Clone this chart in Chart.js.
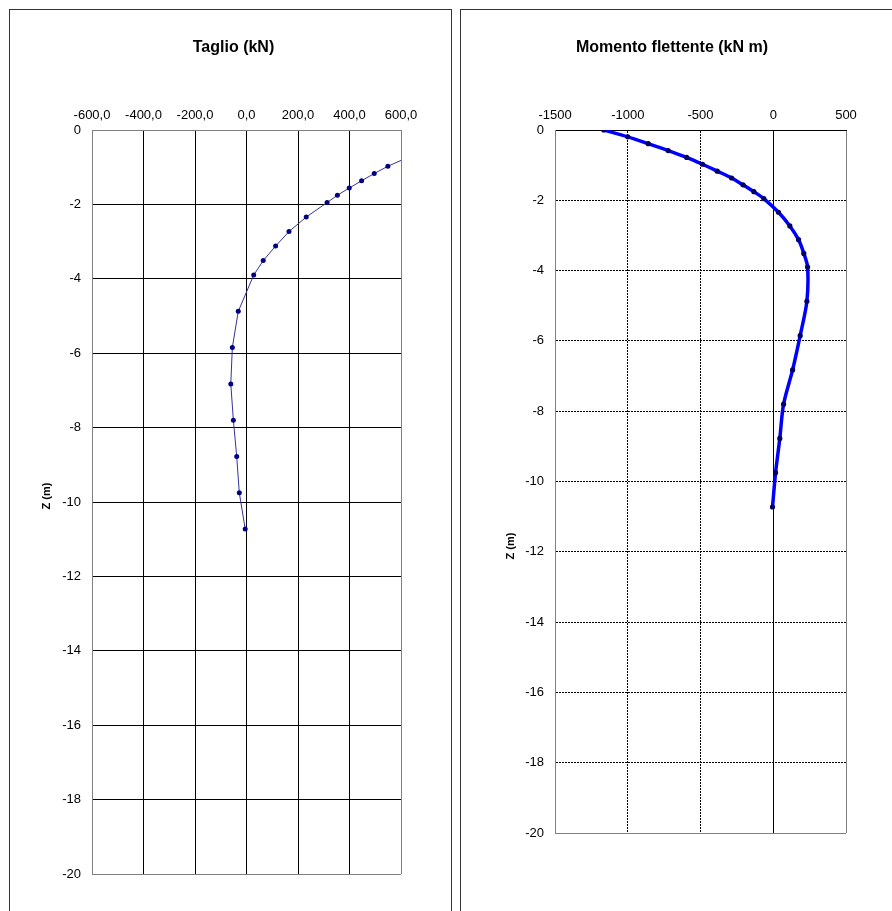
<!DOCTYPE html>
<html>
<head>
<meta charset="utf-8">
<script src="https://cdn.jsdelivr.net/npm/chart.js@4.4.1/dist/chart.umd.min.js"></script>
<style>
	body { margin: 0; background: #fff; width: 892px; height: 911px; overflow: hidden; position: relative; }
	.panel { position: absolute; top: 9px; height: 940px; border: 1px solid #333; box-sizing: border-box; }
	canvas { position: absolute; top: 10px; }
</style>
</head>
<body>
<div class="panel" style="left:9px; width:443px;"></div>
<div class="panel" style="left:460px; width:480px;"></div>
<canvas id="taglio" width="440" height="901" style="left:10px"></canvas>
<canvas id="momento" width="431" height="901" style="left:461px"></canvas>
<script>
// depth of each node (m)
const quote = [0, -0.195, -0.39, -0.585, -0.78, -0.975, -1.17, -1.365, -1.56, -1.755, -1.95,
	-2.34, -2.73, -3.12, -3.51, -3.9, -4.875, -5.85, -6.825, -7.8, -8.775, -9.75, -10.725];
// shear (kN)
const taglio = [880, 800, 735, 672, 612, 549, 496, 447, 399, 353, 313,
	232, 165, 113, 65, 28, -32, -55, -61, -51, -38, -28, -5];
// bending moment (kN m)
const momento = [-1165, -1000, -859, -722, -595, -486, -385, -286, -208, -133, -65,
	36, 114, 174, 210, 236, 231, 185, 133, 71, 45, 16, -5];

const zTicks = { min: -20, max: 0, step: 2 };
const taglioTicks = { min: -600, max: 600, step: 200 };
const momentoTicks = { min: -1500, max: 500, step: 500 };

const FONT = '"Liberation Sans", Arial, sans-serif';
Chart.defaults.font.family = FONT;
Chart.defaults.font.size = 13;
Chart.defaults.color = "#000";

const toPoints = (xs) => xs.map((v, i) => ({ x: v, y: quote[i] }));

// chart title and the rotated "Z (m)" caption
const captions = {
	id: "captions",
	afterDraw(chart, args, opts) {
		const ctx = chart.ctx;
		ctx.save();
		ctx.fillStyle = "#000";
		ctx.textAlign = "center";
		ctx.textBaseline = "middle";
		ctx.font = "bold 16px " + FONT;
		ctx.fillText(opts.title, opts.titleX, opts.titleY);
		ctx.translate(opts.zX, opts.zY);
		ctx.rotate(-Math.PI / 2);
		ctx.font = "bold 11px " + FONT;
		ctx.fillText("Z (m)", 0, 0);
		ctx.restore();
	},
};

const depthAxis = (width, dash) => ({
	type: "linear",
	min: zTicks.min,
	max: zTicks.max,
	afterFit: (scale) => { scale.width = width; },
	ticks: { stepSize: zTicks.step, padding: 11, callback: (v) => String(v) },
	grid: {
		drawTicks: false,
		color: (c) => (c.tick && c.tick.value === zTicks.min ? "#808080" : "#000"),
	},
	border: {
		color: "#808080",
		dash: (c) => (c.tick && c.tick.value !== zTicks.min && c.tick.value !== zTicks.max ? dash : []),
	},
});

const taglio_ctx = document.getElementById("taglio").getContext("2d");
new Chart(taglio_ctx, {
	type: "scatter",
	data: {
		datasets: [
			{
				data: toPoints(taglio),
				showLine: true,
				borderColor: "#333399",
				borderWidth: 1,
				pointRadius: 2.5,
				pointBackgroundColor: "#000080",
				pointBorderWidth: 0,
				tension: 0,
			},
		],
	},
	options: {
		responsive: false,
		animation: false,
		layout: { padding: { left: 42, right: 49, top: 63, bottom: 37 } },
		scales: {
			x: {
				type: "linear",
				position: "top",
				min: taglioTicks.min,
				max: taglioTicks.max,
				afterFit: (scale) => { scale.height = 57; },
				ticks: {
					stepSize: taglioTicks.step,
					padding: 7,
					callback: (v) => v.toFixed(1).replace(".", ","),
				},
				grid: {
					drawTicks: false,
					color: (c) => (c.tick && c.tick.value === taglioTicks.max ? "#808080" : "#000"),
				},
				border: { color: "#808080" },
			},
			y: depthAxis(40, []),
		},
		plugins: {
			legend: { display: false },
			tooltip: { enabled: false },
			captions: { title: "Taglio (kN)", titleX: 223.5, titleY: 38, zX: 37, zY: 486 },
		},
	},
	plugins: [captions],
});

const momento_ctx = document.getElementById("momento").getContext("2d");
new Chart(momento_ctx, {
	type: "scatter",
	data: {
		datasets: [
			{
				data: toPoints(momento),
				showLine: true,
				borderColor: "#0000ff",
				borderWidth: 3.5,
				pointRadius: 2.6,
				pointBackgroundColor: "#000066",
				pointBorderWidth: 0,
				tension: 0.3,
			},
		],
	},
	options: {
		responsive: false,
		animation: false,
		layout: { padding: { left: 44, right: 46, top: 63, bottom: 78 } },
		scales: {
			x: {
				type: "linear",
				position: "top",
				min: momentoTicks.min,
				max: momentoTicks.max,
				afterFit: (scale) => { scale.height = 57; },
				ticks: { stepSize: momentoTicks.step, padding: 7, callback: (v) => String(v) },
				grid: {
					drawTicks: false,
					color: (c) => (c.tick && c.tick.value === momentoTicks.max ? "#808080" : "#000"),
				},
				border: {
					color: "#000",
					dash: (c) => (c.tick && c.tick.value !== 0 && c.tick.value !== momentoTicks.max && c.tick.value !== momentoTicks.min ? [2, 1] : []),
				},
			},
			y: depthAxis(50, [2, 1]),
		},
		plugins: {
			legend: { display: false },
			tooltip: { enabled: false },
			captions: { title: "Momento flettente (kN m)", titleX: 211, titleY: 38, zX: 50, zY: 536 },
		},
	},
	plugins: [captions],
});
</script>
</body>
</html>
